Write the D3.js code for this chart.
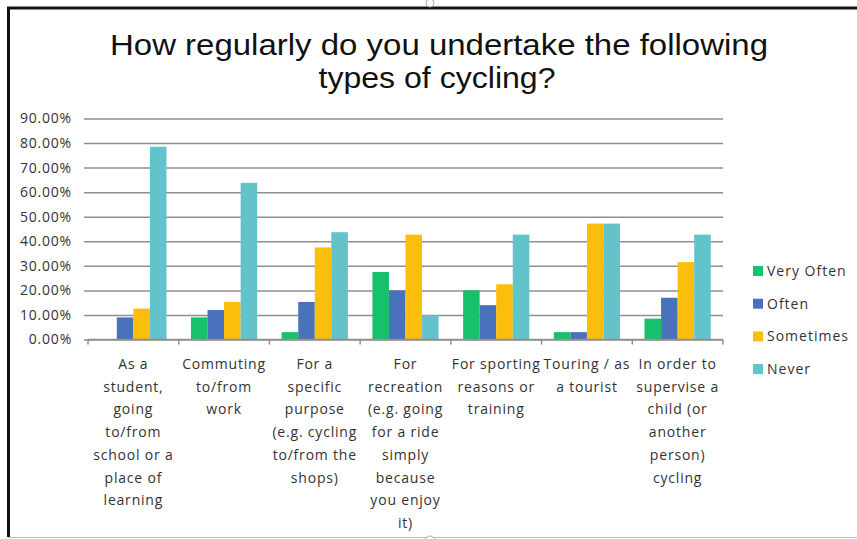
<!DOCTYPE html>
<html>
<head>
<meta charset="utf-8">
<script src="https://cdn.jsdelivr.net/npm/d3@7"></script>
<style>
  body { margin: 0; background: #fff; }
  svg { display: block; }
</style>
</head>
<body>
<script>
// categories, each split in the lines shown under the axis
var categories = [
  ["As a", "student,", "going", "to/from", "school or a", "place of", "learning"],
  ["Commuting", "to/from", "work"],
  ["For a", "specific", "purpose", "(e.g. cycling", "to/from the", "shops)"],
  ["For", "recreation", "(e.g. going", "for a ride", "simply", "because", "you enjoy", "it)"],
  ["For sporting", "reasons or", "training"],
  ["Touring / as", "a tourist"],
  ["In order to", "supervise a", "child (or", "another", "person)", "cycling"]
]
var seriesNames = ["Very Often", "Often", "Sometimes", "Never"]
var veryOften = [0, 0.09, 0.03, 0.275, 0.20, 0.03, 0.085]
var often     = [0.09, 0.12, 0.153, 0.20, 0.14, 0.03, 0.17]
var sometimes = [0.126, 0.153, 0.375, 0.427, 0.225, 0.472, 0.315]
var never     = [0.785, 0.638, 0.437, 0.099, 0.427, 0.472, 0.427]
var yTicks = [0, 0.1, 0.2, 0.3, 0.4, 0.5, 0.6, 0.7, 0.8, 0.9]
var colors = ["#17c06b", "#4a72bc", "#fbbe0c", "#62c3cb"]

var w = 857, h = 539
var svg = d3.select("body").append("svg")
  .attr("width", w)
  .attr("height", h)

// frame of the picture
svg.append("line").attr("x1", 8.5).attr("x2", 8.5).attr("y1", 7).attr("y2", 537)
  .attr("stroke", "#111").attr("stroke-width", 3)
svg.append("line").attr("x1", 7).attr("x2", w).attr("y1", 8).attr("y2", 8)
  .attr("stroke", "#111").attr("stroke-width", 3)
svg.append("line").attr("x1", 8).attr("x2", w).attr("y1", 537.5).attr("y2", 537.5)
  .attr("stroke", "#bbb").attr("stroke-width", 1)
// small handles on the frame
svg.append("circle").attr("cx", 430).attr("cy", 3).attr("r", 4)
  .attr("fill", "#fff").attr("stroke", "#aaa")
svg.append("circle").attr("cx", 430).attr("cy", 541).attr("r", 5)
  .attr("fill", "#fff").attr("stroke", "#aaa")

// title
var title = svg.append("text")
  .attr("text-anchor", "middle")
  .style("font-family", "'Liberation Sans', Arial, sans-serif")
  .style("font-size", "29px")
  .style("fill", "#111")
title.append("tspan").attr("x", 439).attr("y", 55)
  .attr("textLength", 658).attr("lengthAdjust", "spacingAndGlyphs")
  .text("How regularly do you undertake the following")
title.append("tspan").attr("x", 437).attr("y", 88)
  .attr("textLength", 237).attr("lengthAdjust", "spacingAndGlyphs")
  .text("types of cycling?")

var plotLeft = 88, plotRight = 723, plotTop = 118.5, plotBottom = 339.5

var xScale = d3.scaleBand()
  .domain(d3.range(categories.length))
  .range([plotLeft, plotRight])
  .paddingInner(0.27)
  .paddingOuter(0.135)

var xSub = d3.scaleBand()
  .domain(seriesNames)
  .range([0, xScale.bandwidth()])

var yScale = d3.scaleLinear()
  .domain([0, 0.9])
  .range([plotBottom, plotTop])

// gridlines + y labels
var yAxis = svg.append("g")
  .attr("transform", "translate(" + plotLeft + ",0)")
  .call(d3.axisLeft(yScale).tickValues(yTicks)
    .tickSize(-(plotRight - plotLeft))
    .tickPadding(16)
    .tickFormat(function(d) { return d3.format(".2f")(d * 100) + "%" }))
yAxis.select(".domain").remove()
yAxis.selectAll(".tick line")
  .attr("x1", -4)
  .attr("stroke", "#8f8f8f")
  .attr("stroke-width", 1.5)
yAxis.selectAll(".tick text")
  .style("font-family", "'Open Sans', sans-serif")
  .style("font-size", "14px")
  .style("letter-spacing", "0.8px")
  .style("fill", "#333")

// bars
var series = [veryOften, often, sometimes, never]
series.forEach(function(values, s) {
  svg.append("g").selectAll("rect")
    .data(values)
    .enter()
    .append("rect")
    .attr("x", function(d, i) { return xScale(i) + xSub(seriesNames[s]) })
    .attr("y", function(d) { return yScale(d) })
    .attr("width", xSub.bandwidth())
    .attr("height", function(d) { return plotBottom - yScale(d) })
    .attr("fill", colors[s])
})

// x axis with the ticks between categories
var boundaries = d3.range(categories.length + 1).map(function(i) {
  return plotLeft + i * (plotRight - plotLeft) / categories.length
})
svg.append("line").attr("x1", plotLeft).attr("x2", plotRight).attr("y1", plotBottom).attr("y2", plotBottom)
  .attr("stroke", "#8f8f8f").attr("stroke-width", 1.5)
svg.append("g").selectAll("line")
  .data(boundaries)
  .enter()
  .append("line")
  .attr("x1", function(d) { return d })
  .attr("x2", function(d) { return d })
  .attr("y1", plotBottom)
  .attr("y2", plotBottom + 5)
  .attr("stroke", "#8f8f8f")
  .attr("stroke-width", 1.5)

// category labels
var labels = svg.append("g").selectAll("text")
  .data(categories)
  .enter()
  .append("text")
  .attr("text-anchor", "middle")
  .style("font-family", "'Open Sans', sans-serif")
  .style("font-size", "14px")
  .style("letter-spacing", "0.8px")
  .style("fill", "#333")
labels.each(function(lines, i) {
  var cx = xScale(i) + xScale.bandwidth() / 2
  d3.select(this).selectAll("tspan")
    .data(lines)
    .enter()
    .append("tspan")
    .attr("x", cx)
    .attr("y", function(d, j) { return 369 + j * 22.7 })
    .text(function(d) { return d })
})

// legend
var legend = svg.append("g").selectAll("g")
  .data(seriesNames)
  .enter()
  .append("g")
  .attr("transform", function(d, i) { return "translate(753," + (271 + i * 32.7) + ")" })
legend.append("rect")
  .attr("x", 0).attr("y", -5)
  .attr("width", 10).attr("height", 10)
  .attr("fill", function(d, i) { return colors[i] })
legend.append("text")
  .attr("x", 14)
  .attr("y", 5)
  .style("font-family", "'Open Sans', sans-serif")
  .style("font-size", "14px")
  .style("letter-spacing", "1px")
  .style("fill", "#333")
  .text(function(d) { return d })
</script>
</body>
</html>
